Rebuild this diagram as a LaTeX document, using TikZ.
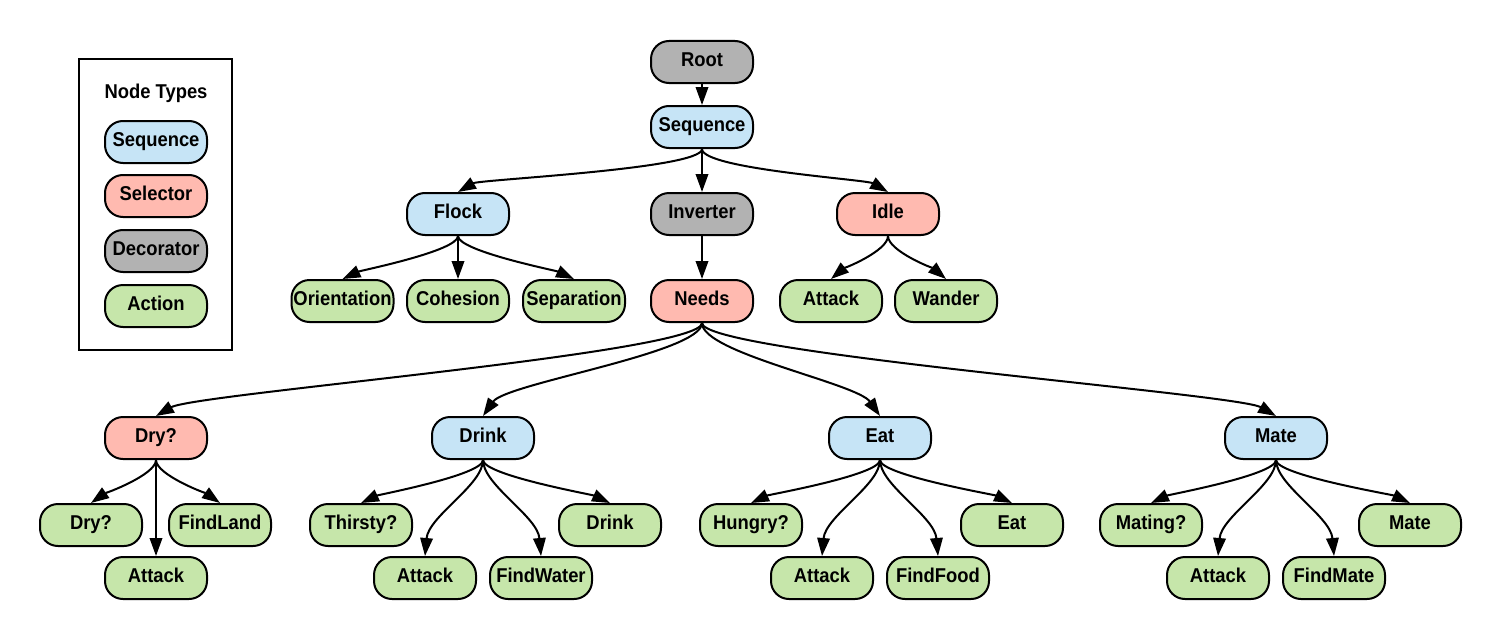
\documentclass[tikz,border=0pt]{standalone}
\usepackage{fontspec}
\setmainfont{Liberation Sans}[FakeStretch=0.92]
\usetikzlibrary{arrows.meta}
\definecolor{seqc}{HTML}{C6E4F6}
\definecolor{selc}{HTML}{FFBAB0}
\definecolor{decc}{HTML}{B2B2B2}
\definecolor{actc}{HTML}{C6E6AA}
\tikzset{
  bt/.style={draw, line width=2pt, rounded corners=18pt, minimum width=102pt, minimum height=42pt,
    inner sep=0pt, text height=14pt, text depth=5pt, font=\fontsize{20}{21}\selectfont\bfseries},
  seqn/.style={bt, fill=seqc},
  seln/.style={bt, fill=selc},
  decn/.style={bt, fill=decc},
  actn/.style={bt, fill=actc},
  conn/.style={line width=2pt, -{Triangle[length=18pt,width=12.5pt]}},
}
\begin{document}
\begin{tikzpicture}[x=1pt,y=1pt]
\useasboundingbox (0,0) rectangle (1503,-642);
% legend
\node[draw, line width=2pt, minimum width=153pt, minimum height=291pt, inner sep=0pt] (legend) at (155.5,-204.5) {};
\node[font=\fontsize{20}{21}\selectfont\bfseries, inner sep=0pt] (ltitle) at (156,-93) {Node Types};
\node[seqn] (lseq) at (156,-142) {Sequence};
\node[seln] (lsel) at (156,-196) {Selector};
\node[decn] (ldec) at (156,-251) {Decorator};
\node[actn] (lact) at (156,-306) {Action};
% tree
\node[decn] (root) at (702,-62) {Root};
\node[seqn] (seq) at (702,-127) {Sequence};
\node[seqn] (flock) at (458,-214) {Flock};
\node[decn] (inv) at (702,-214) {Inverter};
\node[seln] (idle) at (888,-214) {Idle};
\node[actn] (orient) at (342.5,-301) {Orientation};
\node[actn] (coh) at (458,-301) {Cohesion};
\node[actn] (sep) at (574,-301) {Separation};
\node[seln] (needs) at (702,-301) {Needs};
\node[actn] (iatt) at (831,-301) {Attack};
\node[actn] (wander) at (946,-301) {Wander};
\node[seln] (dry) at (156,-438) {Dry?};
\node[seqn] (drink) at (483,-438) {Drink};
\node[seqn] (eat) at (880,-438) {Eat};
\node[seqn] (mate) at (1276,-438) {Mate};
\node[actn] (dryl) at (91,-525) {Dry?};
\node[actn] (findland) at (220,-525) {FindLand};
\node[actn] (thirsty) at (361,-525) {Thirsty?};
\node[actn] (drinkl) at (610,-525) {Drink};
\node[actn] (hungry) at (751,-525) {Hungry?};
\node[actn] (eatl) at (1012,-525) {Eat};
\node[actn] (mating) at (1151,-525) {Mating?};
\node[actn] (matel) at (1410,-525) {Mate};
\node[actn] (att1) at (156,-578) {Attack};
\node[actn] (att2) at (425,-578) {Attack};
\node[actn] (findwater) at (541,-578) {FindWater};
\node[actn] (att3) at (822,-578) {Attack};
\node[actn] (findfood) at (938,-578) {FindFood};
\node[actn] (att4) at (1218,-578) {Attack};
\node[actn] (findmate) at (1334,-578) {FindMate};
% connectors
\draw[conn] (root) -- (seq);
\draw[conn] (seq.south) to[out=-90,in=30,out distance=20pt,in distance=25pt] (flock.north);
\draw[conn] (seq) -- (inv);
\draw[conn] (seq.south) to[out=-90,in=150,out distance=20pt,in distance=25pt] (idle.north);
\draw[conn] (flock.south) to[out=-90,in=25,out distance=15pt,in distance=20pt] (orient.north);
\draw[conn] (flock) -- (coh);
\draw[conn] (flock.south) to[out=-90,in=155,out distance=15pt,in distance=20pt] (sep.north);
\draw[conn] (inv) -- (needs);
\draw[conn] (idle.south) to[out=-90,in=40,out distance=15pt,in distance=15pt] (iatt.north);
\draw[conn] (idle.south) to[out=-90,in=140,out distance=15pt,in distance=15pt] (wander.north);
\draw[conn] (needs.south) to[out=-90,in=30,out distance=30pt,in distance=45pt] (dry.north);
\draw[conn] (needs.south) to[out=-90,in=55,out distance=30pt,in distance=40pt] (drink.north);
\draw[conn] (needs.south) to[out=-90,in=125,out distance=30pt,in distance=40pt] (eat.north);
\draw[conn] (needs.south) to[out=-90,in=150,out distance=30pt,in distance=45pt] (mate.north);
% Dry? subtree
\draw[conn] (dry.south) to[out=-90,in=35,out distance=15pt,in distance=15pt] (dryl.north);
\draw[conn] (dry) -- (att1);
\draw[conn] (dry.south) to[out=-90,in=145,out distance=15pt,in distance=15pt] (findland.north);
% Drink subtree
\draw[conn] (drink.south) to[out=-90,in=25,out distance=15pt,in distance=20pt] (thirsty.north);
\draw[conn] (drink.south) to[out=-90,in=85,out distance=25pt,in distance=40pt] (att2.north);
\draw[conn] (drink.south) to[out=-90,in=95,out distance=25pt,in distance=40pt] (findwater.north);
\draw[conn] (drink.south) to[out=-90,in=155,out distance=15pt,in distance=20pt] (drinkl.north);
% Eat subtree
\draw[conn] (eat.south) to[out=-90,in=25,out distance=15pt,in distance=20pt] (hungry.north);
\draw[conn] (eat.south) to[out=-90,in=85,out distance=25pt,in distance=40pt] (att3.north);
\draw[conn] (eat.south) to[out=-90,in=95,out distance=25pt,in distance=40pt] (findfood.north);
\draw[conn] (eat.south) to[out=-90,in=155,out distance=15pt,in distance=20pt] (eatl.north);
% Mate subtree
\draw[conn] (mate.south) to[out=-90,in=25,out distance=15pt,in distance=20pt] (mating.north);
\draw[conn] (mate.south) to[out=-90,in=85,out distance=25pt,in distance=40pt] (att4.north);
\draw[conn] (mate.south) to[out=-90,in=95,out distance=25pt,in distance=40pt] (findmate.north);
\draw[conn] (mate.south) to[out=-90,in=155,out distance=15pt,in distance=20pt] (matel.north);
\end{tikzpicture}
\end{document}
